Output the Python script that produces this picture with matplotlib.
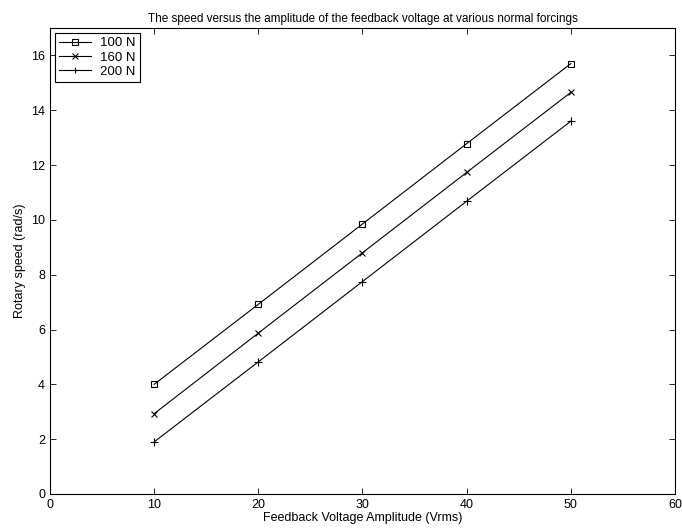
import numpy as np
import matplotlib
matplotlib.use("Agg")
import matplotlib.pyplot as plt

plt.rcParams['font.family'] = ['Liberation Sans', 'DejaVu Sans']

voltage = [10, 20, 30, 40, 50]
speed_100 = [4.0, 6.92, 9.85, 12.78, 15.7]
speed_160 = [2.93, 5.87, 8.8, 11.73, 14.65]
speed_200 = [1.9, 4.82, 7.75, 10.68, 13.6]

fig = plt.figure(figsize=(6.82, 5.31), dpi=100)
ax = fig.add_axes([0.0733, 0.0697, 0.9164, 0.8776])

ax.plot(voltage, speed_100, "k-", marker="s", mfc="none", ms=5, lw=0.8, mew=0.8, label="100 N")
ax.plot(voltage, speed_160, "k-", marker="x", ms=5, lw=0.8, mew=0.8, label="160 N")
ax.plot(voltage, speed_200, "k-", marker="+", ms=6, lw=0.8, mew=0.8, label="200 N")

ax.set_xlim(0, 60)
ax.set_ylim(0, 17)
ax.set_xticks(range(0, 61, 10))
ax.set_yticks(range(0, 17, 2))
ax.tick_params(direction="in", top=True, right=True, labelsize=9, length=4, width=0.6)
for s in ax.spines.values():
    s.set_linewidth(0.8)

ax.set_xlabel("Feedback Voltage Amplitude (Vrms)", fontsize=9, labelpad=1)
ax.set_ylabel("Rotary speed (rad/s)", fontsize=9, labelpad=4)
ax.set_title("The speed versus the amplitude of the feedback voltage at various normal forcings",
             fontsize=8.5, pad=4)

leg = ax.legend(loc="upper left", fontsize=9.5, fancybox=False, edgecolor="k",
                borderaxespad=0.4, handlelength=2.4, labelspacing=0.15, borderpad=0.3,
                handletextpad=0.7, framealpha=1, markerscale=0.8)
leg.get_frame().set_linewidth(0.8)

fig.savefig("out.png", dpi=100)
